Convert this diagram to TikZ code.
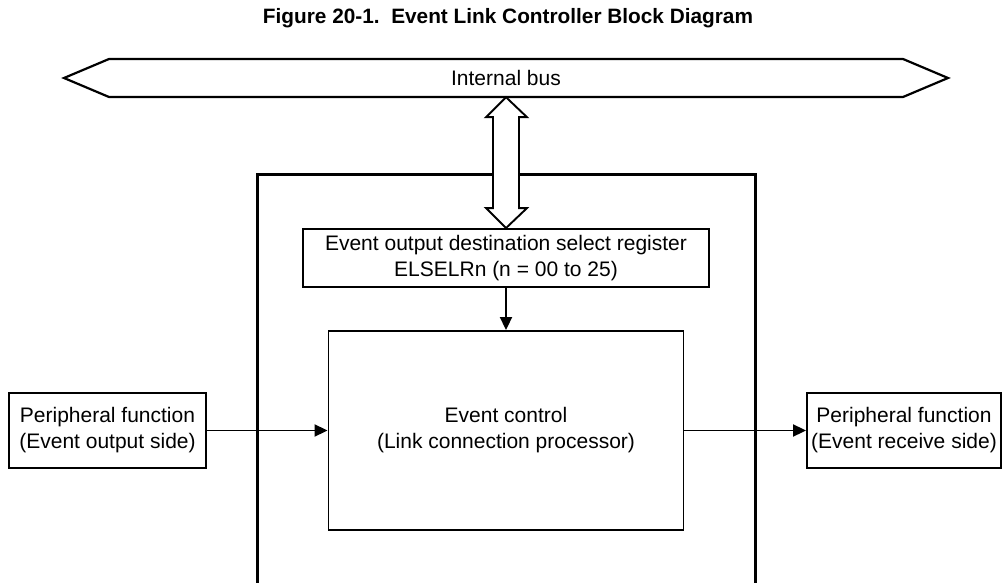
\documentclass[tikz,border=0pt]{standalone}
\usepackage{fontspec}
\setmainfont{Liberation Sans}
\usetikzlibrary{arrows.meta,calc}

\begin{document}
\begin{tikzpicture}[x=1pt, y=-1pt, line join=miter,
  box/.style={draw, line width=1.9pt, align=center, inner sep=0pt,
    font=\fontsize{21}{26}\selectfont},
  sig/.style={line width=1.9pt, -{Triangle[length=13pt,width=12pt]}}]

  %% ==== canvas ====
  \useasboundingbox (0,0) rectangle (1003,583);

  %% ==== title ====
  \node[font=\bfseries\fontsize{20.8}{24}\selectfont] (title) at (508,18)
    {Figure 20-1.\ \ Event Link Controller Block Diagram};

  %% ==== ELC frame (runs off the bottom) ====
  \draw[line width=3pt] (257,620) -- (257,174) -- (755,174) -- (755,620);

  %% ==== internal bus ====
  \draw[line width=2.2pt] (64,78) -- (109,59) -- (903,59) -- (948,78)
    -- (903,97) -- (109,97) -- cycle;
  \node[inner sep=0pt, minimum width=794pt, minimum height=38pt,
    font=\fontsize{21}{26}\selectfont] (bus) at (506,78) {Internal bus};

  %% ==== blocks ====
  \node[box, minimum width=406pt, minimum height=58pt] (reg) at (506,258)
    {Event output destination select register\\ELSELRn (n = 00 to 25)};
  \node[box, minimum width=355pt, minimum height=199pt] (ctrl) at (506,430.5)
    {Event control\\(Link connection processor)};
  \node[box, minimum width=197pt, minimum height=75pt] (pin) at (107.5,430.5)
    {Peripheral function\\(Event output side)};
  \node[box, minimum width=194pt, minimum height=75pt] (pout) at (904,430.5)
    {Peripheral function\\(Event receive side)};

  %% ==== bus <-> register (hollow double arrow) ====
  \draw[line width=1.9pt, fill=white] (bus.south) -- +(21,20) -- +(13,20)
    -- ($(reg.north)+(13,-20)$) -- ($(reg.north)+(21,-20)$) -- (reg.north)
    -- ($(reg.north)+(-20,-20)$) -- ($(reg.north)+(-13,-20)$)
    -- ($(bus.south)+(-13,20)$) -- ($(bus.south)+(-20,20)$) -- cycle;

  %% ==== signal arrows ====
  \draw[sig] (reg.south) -- (ctrl.north);
  \draw[sig] (pin.east) -- (ctrl.west);
  \draw[sig] (ctrl.east) -- (pout.west);
\end{tikzpicture}
\end{document}
